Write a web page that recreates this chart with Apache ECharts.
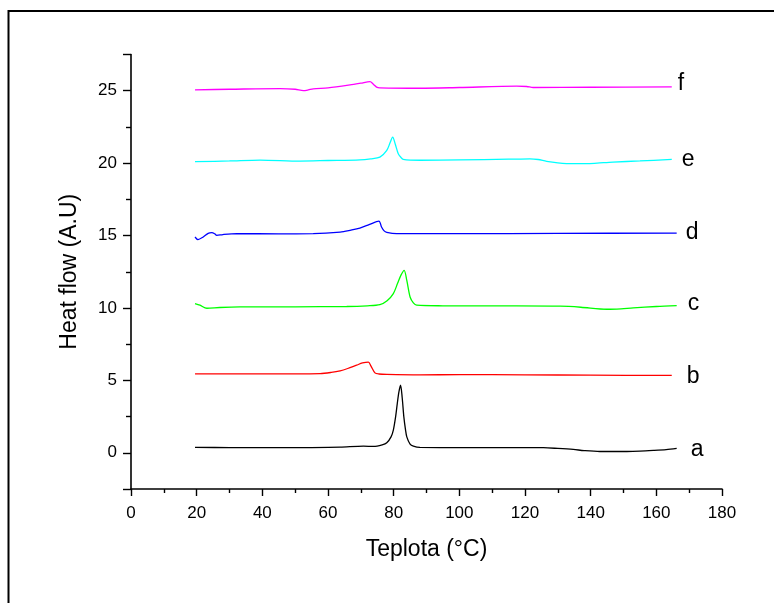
<!DOCTYPE html>
<html>
<head>
<meta charset="utf-8">
<script src="https://cdn.jsdelivr.net/npm/echarts@6/dist/echarts.min.js"></script>
<style>
html,body{margin:0;padding:0;background:#fff;}
#main{width:774px;height:603px;}
</style>
</head>
<body>
<div id="main"></div>
<script>
// Curve names (labels at the right end)
const curveNames = ['a', 'b', 'c', 'd', 'e', 'f'];
const curveColors = ['#000000', '#ff0000', '#00ff00', '#0000ff', '#00ffff', '#ff00ff'];

// [temperature °C, heat flow A.U]
const curveA = [[19.5,0.37],[30,0.36],[45,0.35],[55,0.36],[63.7,0.39],[70.8,0.46],[73.9,0.44],[76.5,0.55],[77.9,0.69],[79.2,1.1],[79.9,1.57],[80.6,2.5],[81.1,3.4],[81.6,4.2],[82.1,4.67],[82.6,3.8],[83.1,2.48],[83.6,1.6],[84,1.1],[85,0.6],[86,0.46],[88,0.37],[100,0.36],[125.6,0.35],[130,0.3],[134.7,0.23],[138,0.15],[142.8,0.09],[151,0.09],[155,0.11],[159.1,0.16],[163,0.22],[166.2,0.30]];
const curveB = [[19.5,5.45],[40,5.45],[57.6,5.47],[61,5.55],[63.7,5.66],[66,5.82],[68.7,6.05],[70.5,6.2],[72.3,6.26],[73.1,5.98],[74.3,5.52],[75.5,5.44],[77.9,5.41],[88,5.38],[100,5.4],[120,5.38],[140,5.36],[164.7,5.34]];
const curveC = [[19.5,10.3],[21,10.19],[23.1,9.98],[27,10.03],[33.2,10.07],[50,10.08],[65.7,10.1],[72,10.15],[75.8,10.23],[78,10.5],[79.9,10.99],[81.2,11.7],[82.3,12.3],[83.2,12.6],[84,11.9],[85,10.76],[86,10.35],[87,10.19],[95,10.15],[112.4,10.14],[130.7,10.12],[137,10.05],[144.9,9.91],[148,9.92],[153,10.0],[160,10.1],[166.2,10.16]];
const curveD = [[19.5,14.9],[20.4,14.72],[22,14.9],[23.5,15.15],[24.6,15.2],[25.5,15.12],[26.1,15.01],[28,15.07],[32.2,15.13],[45,15.12],[55.5,15.13],[63.7,15.24],[67,15.38],[69.7,15.52],[72.5,15.75],[75.5,16.0],[76.3,15.59],[77.1,15.32],[77.9,15.22],[80.9,15.13],[100,15.13],[130,15.15],[166.2,15.17]];
const curveE = [[19.5,20.1],[30,20.15],[39.3,20.21],[51.5,20.14],[60,20.18],[69.7,20.23],[73,20.3],[75.8,20.41],[77.9,20.88],[78.9,21.4],[79.7,21.8],[80.5,21.3],[81.4,20.65],[82.2,20.4],[82.9,20.26],[88,20.2],[100,20.22],[115,20.27],[121.5,20.3],[124,20.25],[126.6,20.12],[130,20.02],[134.6,19.96],[138.8,19.96],[142,20.0],[146.8,20.07],[155,20.15],[164.7,20.26]];
const curveF = [[19.5,25.06],[30,25.1],[45.4,25.15],[50,25.1],[52.5,25.0],[54,25.05],[55.5,25.13],[60,25.2],[66.7,25.4],[70,25.52],[72.8,25.63],[73.8,25.45],[74.8,25.25],[75.8,25.2],[88,25.17],[100,25.22],[117.5,25.31],[120.5,25.29],[122.5,25.22],[140,25.24],[164.7,25.27]];
const curves = [curveA, curveB, curveC, curveD, curveE, curveF];

// end label placement (gap from line end, vertical shift)
const labelOffsets = [[14, 1], [15, 1], [11, -2], [9, 0], [10, 0], [6, -3]];

const chart = echarts.init(document.getElementById('main'), null, {renderer: 'canvas'});
const FONT = 'Liberation Sans, Arial, sans-serif';

const series = curves.map((d, i) => ({
  name: curveNames[i],
  type: 'line',
  data: d,
  showSymbol: false,
  symbol: 'none',
  smooth: 0.3,
  lineStyle: {color: curveColors[i], width: 1.3},
  itemStyle: {color: curveColors[i]},
  endLabel: {
    show: true,
    formatter: '{a}',
    color: '#000',
    fontFamily: FONT,
    fontSize: 23,
    distance: labelOffsets[i][0],
    offset: [0, labelOffsets[i][1]]
  },
  animation: false
}));

chart.setOption({
  animation: false,
  backgroundColor: '#fff',
  graphic: [{
    type: 'rect',
    shape: {x: 8.5, y: 11, width: 900, height: 800},
    style: {fill: 'none', stroke: '#000', lineWidth: 2},
    z: -1
  }],
  grid: {left: 131, right: 52, top: 54.5, bottom: 114, containLabel: false},
  xAxis: {
    type: 'value',
    min: 0, max: 180, interval: 20,
    name: 'Teplota (°C)',
    nameLocation: 'middle',
    nameGap: 49,
    nameTextStyle: {fontFamily: FONT, fontSize: 23, color: '#000'},
    axisLine: {show: true, onZero: false, lineStyle: {color: '#000', width: 1.6}},
    axisTick: {show: true, inside: false, length: 7, lineStyle: {color: '#000', width: 1.4}},
    minorTick: {show: true, splitNumber: 2, length: 4, lineStyle: {color: '#000', width: 1.4}},
    axisLabel: {fontFamily: FONT, fontSize: 17, color: '#000', margin: 16},
    splitLine: {show: false}
  },
  yAxis: {
    type: 'value',
    min: -2.5, max: 27.5, splitNumber: 6,
    name: 'Heat flow (A.U)',
    nameLocation: 'middle',
    nameGap: 50,
    nameRotate: 90,
    nameTextStyle: {fontFamily: FONT, fontSize: 23, color: '#000'},
    axisLine: {show: true, onZero: false, lineStyle: {color: '#000', width: 1.6}},
    axisTick: {show: true, inside: false, length: 8, lineStyle: {color: '#000', width: 1.4}},
    minorTick: {show: true, splitNumber: 2, length: 5, lineStyle: {color: '#000', width: 1.4}},
    axisLabel: {fontFamily: FONT, fontSize: 17, color: '#000', margin: 14, showMinLabel: false, showMaxLabel: false},
    splitLine: {show: false}
  },
  series: series
});
</script>
</body>
</html>
